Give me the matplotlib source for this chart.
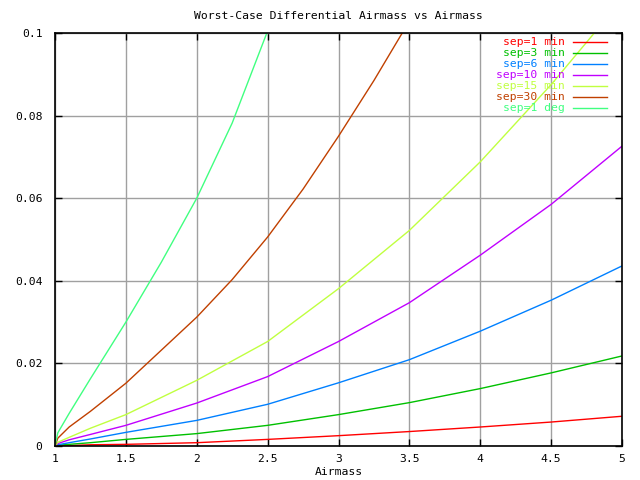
import matplotlib
matplotlib.use("Agg")
import matplotlib.pyplot as plt

# Airmass sample points and read-off differential airmass values
airmass = [1.0, 1.02, 1.1, 1.25, 1.5, 2.0, 2.5, 3.0, 3.5, 4.0, 4.5, 5.0]

sep_1min  = [0.0, 0.00005, 0.0001, 0.0003, 0.0004, 0.0008, 0.0016, 0.0025, 0.0035, 0.0046, 0.0058, 0.0072]
sep_3min  = [0.0, 0.0002, 0.0004, 0.0008, 0.0016, 0.0030, 0.0050, 0.0076, 0.0105, 0.0139, 0.0177, 0.0218]
sep_6min  = [0.0, 0.0003, 0.0008, 0.0017, 0.0033, 0.0062, 0.0101, 0.0153, 0.0209, 0.0278, 0.0353, 0.0436]
sep_10min = [0.0, 0.0006, 0.0015, 0.0028, 0.0050, 0.0104, 0.0168, 0.0253, 0.0347, 0.0462, 0.0585, 0.0726]
sep_15min = [0.0, 0.0009, 0.0021, 0.0043, 0.0076, 0.0159, 0.0253, 0.0381, 0.0522, 0.0688, 0.0875, 0.1080]

airmass_30 = [1.0, 1.02, 1.1, 1.25, 1.5, 2.0, 2.25, 2.5, 2.75, 3.0, 3.25, 3.5]
sep_30min  = [0.0, 0.0019, 0.0046, 0.0084, 0.0152, 0.0312, 0.0403, 0.0506, 0.0622, 0.0750, 0.0885, 0.1029]

airmass_1d = [1.0, 1.02, 1.1, 1.25, 1.5, 1.75, 2.0, 2.25, 2.5]
sep_1deg   = [0.0, 0.0032, 0.0079, 0.0163, 0.0300, 0.0445, 0.0600, 0.0782, 0.1005]

labels = ["sep=1 min", "sep=3 min", "sep=6 min", "sep=10 min",
          "sep=15 min", "sep=30 min", "sep=1 deg"]
colors = ["#ff0000", "#00c000", "#0080ff", "#c000ff",
          "#c0ff40", "#c04000", "#40ff80"]

series = [
    (airmass, sep_1min),
    (airmass, sep_3min),
    (airmass, sep_6min),
    (airmass, sep_10min),
    (airmass, sep_15min),
    (airmass_30, sep_30min),
    (airmass_1d, sep_1deg),
]

xticks = [1, 1.5, 2, 2.5, 3, 3.5, 4, 4.5, 5]
xticklabels = ["1", "1.5", "2", "2.5", "3", "3.5", "4", "4.5", "5"]
yticks = [0, 0.02, 0.04, 0.06, 0.08, 0.1]
yticklabels = ["0", "0.02", "0.04", "0.06", "0.08", "0.1"]

font = "DejaVu Sans Mono"
fs = 8.2

fig = plt.figure(figsize=(6.4, 4.8), dpi=100)
ax = fig.add_axes([55 / 640, 34 / 480, 567 / 640, 413 / 480])

for (xs, ys), c in zip(series, colors):
    ax.plot(xs, ys, color=c, lw=1.0, clip_on=True)

ax.set_xlim(1, 5)
ax.set_ylim(0, 0.1)
ax.set_xticks(xticks)
ax.set_xticklabels(xticklabels, family=font, fontsize=fs)
ax.set_yticks(yticks)
ax.set_yticklabels(yticklabels, family=font, fontsize=fs)
ax.tick_params(direction="in", length=5, width=1, top=True, right=True,
               color="black")
ax.tick_params(axis="x", pad=6)
ax.tick_params(axis="y", pad=9)
ax.grid(True, color="#a0a0a0", lw=1)
ax.set_axisbelow(True)
for sp in ax.spines.values():
    sp.set_linewidth(1.2)
    sp.set_color("black")

ax.set_xlabel("Airmass", family=font, fontsize=fs, labelpad=2)
ax.set_title("Worst-Case Differential Airmass vs Airmass",
             family=font, fontsize=fs, pad=10)

# gnuplot-style key: right-aligned text, line sample on the right
W, H = 567, 413
for i, (lab, c) in enumerate(zip(labels, colors)):
    ypix = 42 + 11 * i - 33
    yf = 1 - ypix / H
    ax.text((565 - 55) / W, yf, lab, transform=ax.transAxes, color=c,
            family=font, fontsize=fs, ha="right", va="center")
    ax.plot([(573 - 55) / W, (607 - 55) / W], [yf, yf], color=c, lw=1.0,
            transform=ax.transAxes, clip_on=False)

fig.savefig("out.png", dpi=100)
